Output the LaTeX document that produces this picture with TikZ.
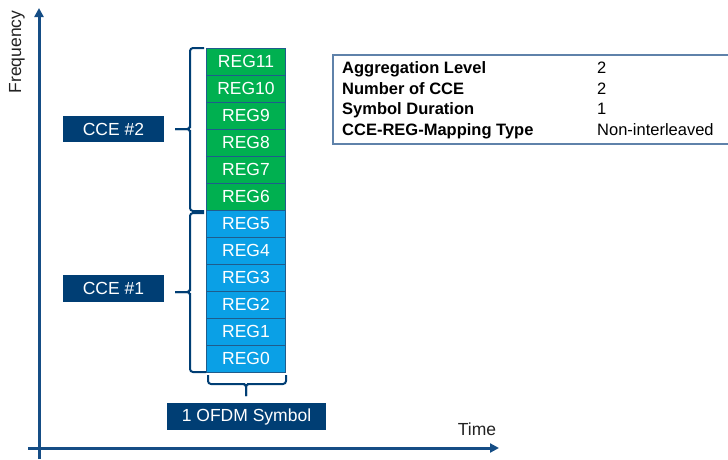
\documentclass[tikz,border=0pt]{standalone}
\usepackage{fontspec}
\setmainfont{Liberation Sans}
\usetikzlibrary{arrows.meta}
\definecolor{navy}{HTML}{003E74}
\definecolor{axisblue}{HTML}{154D85}
\definecolor{reggreen}{HTML}{00B050}
\definecolor{regblue}{HTML}{0AA0E6}
\definecolor{cellline}{HTML}{1F5C8C}
\definecolor{tableline}{HTML}{5F82AA}
\definecolor{labelgray}{HTML}{222222}
\tikzset{
  reg/.style={draw=cellline, line width=0.8pt, minimum width=79pt, minimum height=27pt,
    inner sep=0pt, text=white, font=\fontsize{17.5}{19}\selectfont},
  tag/.style={fill=navy, text=white, inner sep=0pt, font=\fontsize{17.5}{19}\selectfont},
  brc/.style={draw=navy, line width=2pt, rounded corners=3pt},
  axis/.style={draw=axisblue, line width=3pt, -{Triangle[length=9pt,width=9pt]}},
  axlabel/.style={text=labelgray, font=\fontsize{17.5}{19}\selectfont, inner sep=0pt},
}
\begin{document}
\begin{tikzpicture}[x=1pt,y=-1pt]
\useasboundingbox (0,0) rectangle (728,459);

% axes
\coordinate (yfoot) at (39,459);
\coordinate (ytip) at (39,8);
\coordinate (xfoot) at (28,448);
\coordinate (xtip) at (499,448);
\draw[axis] (yfoot) -- (ytip);
\draw[axis] (xfoot) -- (xtip);
\node[axlabel, rotate=90] (freq) at (17,52) {Frequency};
\node[axlabel] (time) at (477,429) {Time};

% REG column
\foreach \i in {0,...,11}{
  \pgfmathsetmacro{\yc}{372-27*\i-13.5}
  \ifnum\i<6
    \node[reg, fill=regblue] (r\i) at (246,\yc) {REG\i};
  \else
    \node[reg, fill=reggreen] (r\i) at (246,\yc) {REG\i};
  \fi
}

% CCE labels
\node[tag, minimum width=101pt, minimum height=26pt] (cce2) at (113.5,129) {CCE \#2};
\node[tag, minimum width=101pt, minimum height=27pt] (cce1) at (113.5,288.5) {CCE \#1};
\node[tag, minimum width=159pt, minimum height=27pt] (ofdm) at (246.5,416.5) {1 OFDM Symbol};

% braces
\coordinate (b2top) at (204,48);
\coordinate (b2bot) at (204,211);
\coordinate (b2tip) at (175,129);
\draw[brc] (b2top) -| (190,125) -- (190,129) -- (b2tip);
\draw[brc] (b2tip) -- (190,129) -- (190,133) |- (b2bot);

\coordinate (b1top) at (204,213);
\coordinate (b1bot) at (206,372);
\coordinate (b1tip) at (175,292);
\draw[brc] (b1top) -| (190,288) -- (190,292) -- (b1tip);
\draw[brc] (b1tip) -- (190,292) -- (190,296) |- (b1bot);

\coordinate (b0l) at (208,375);
\coordinate (b0r) at (286,375);
\coordinate (b0tip) at (246,396);
\draw[brc] (b0l) |- (242,384) -- (246,384) -- (b0tip);
\draw[brc] (b0tip) -- (246,384) -- (250,384) -| (b0r);

% parameter table
\draw[tableline, line width=1.2pt] (730,55) -- (333,55) -- (333,144) -- (730,144);
\node[anchor=west, inner sep=0pt, font=\fontsize{16.5}{20.7}\selectfont\bfseries] (lbl) at (342,100.5) {%
  \begin{tabular}{@{}l@{}}Aggregation Level\\ Number of CCE\\ Symbol Duration\\ CCE-REG-Mapping Type\end{tabular}};
\node[anchor=west, inner sep=0pt, font=\fontsize{16.5}{20.7}\selectfont] (val) at (597,100.5) {%
  \begin{tabular}{@{}l@{}}2\\ 2\\ 1\\ Non-interleaved\end{tabular}};
\end{tikzpicture}
\end{document}
